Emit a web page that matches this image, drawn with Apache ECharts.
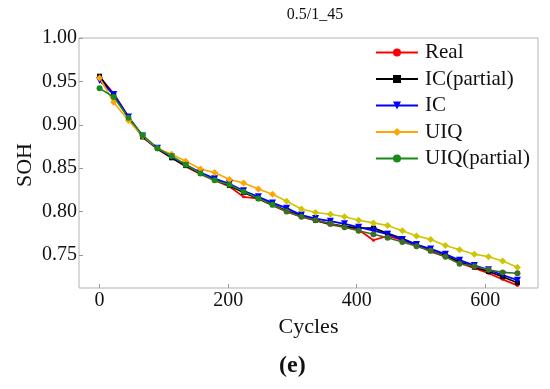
<!DOCTYPE html>
<html>
<head>
<meta charset="utf-8">
<script src="https://cdn.jsdelivr.net/npm/echarts@6/dist/echarts.min.js"></script>
<style>html,body{margin:0;padding:0;background:#fff}#c{width:550px;height:389px}</style>
</head>
<body>
<div id="c"></div>
<script>
const cycles = [0, 22, 45, 67, 90, 112, 134, 157, 179, 202, 224, 247, 269, 291, 314, 336, 359, 381, 403, 426, 448, 471, 493, 515, 538, 560, 583, 605, 627, 650];
const real = [0.955, 0.936, 0.909, 0.886, 0.872, 0.862, 0.852, 0.843, 0.836, 0.829, 0.817, 0.815, 0.807, 0.800, 0.794, 0.790, 0.785, 0.782, 0.779, 0.767, 0.772, 0.767, 0.761, 0.754, 0.748, 0.741, 0.735, 0.729, 0.722, 0.715];
const icPartial = [0.956, 0.934, 0.908, 0.886, 0.873, 0.862, 0.853, 0.844, 0.837, 0.830, 0.822, 0.815, 0.808, 0.801, 0.795, 0.790, 0.786, 0.783, 0.781, 0.781, 0.775, 0.769, 0.762, 0.755, 0.749, 0.742, 0.736, 0.731, 0.725, 0.718];
const ic = [0.951, 0.935, 0.909, 0.887, 0.873, 0.863, 0.854, 0.845, 0.838, 0.832, 0.824, 0.817, 0.810, 0.804, 0.796, 0.792, 0.789, 0.786, 0.782, 0.778, 0.774, 0.768, 0.762, 0.757, 0.751, 0.744, 0.738, 0.733, 0.727, 0.721];
const uiq = [0.954, 0.926, 0.905, 0.887, 0.873, 0.866, 0.858, 0.849, 0.845, 0.837, 0.833, 0.826, 0.820, 0.812, 0.803, 0.799, 0.797, 0.794, 0.790, 0.787, 0.784, 0.778, 0.772, 0.768, 0.761, 0.756, 0.751, 0.748, 0.743, 0.736];
const uiqPartial = [0.942, 0.932, 0.908, 0.888, 0.873, 0.864, 0.854, 0.844, 0.836, 0.831, 0.823, 0.815, 0.808, 0.800, 0.794, 0.790, 0.786, 0.782, 0.778, 0.774, 0.770, 0.765, 0.760, 0.755, 0.748, 0.740, 0.737, 0.733, 0.730, 0.729];
const xTicks = [0, 200, 400, 600];
const yTicks = [0.75, 0.80, 0.85, 0.90, 0.95, 1.00];

const FONT = '"Liberation Serif", "DejaVu Serif", serif';
const pairs = (ys) => cycles.map((c, i) => [c, ys[i]]);
const twoTone = (ys, c1, c2, split) => cycles.map((c, i) => ({value: [c, ys[i]], itemStyle: {color: i >= split ? c2 : c1}}));
const grad = (c1, c2, a, b) => ({type: 'linear', x: 0, y: 0, x2: 1, y2: 0, colorStops: [{offset: 0, color: c1}, {offset: a, color: c1}, {offset: b, color: c2}, {offset: 1, color: c2}]});

const chart = echarts.init(document.getElementById('c'), null, {renderer: 'canvas'});
chart.setOption({
  animation: false,
  backgroundColor: '#fff',
  title: {text: '0.5/1_45', left: 310, top: 2, textAlign: 'center',
    textStyle: {fontFamily: FONT, fontSize: 16, fontWeight: 'normal', color: '#111'}},
  grid: {left: 79, top: 38, right: 12, bottom: 101, show: true, borderColor: '#b4b4b4', borderWidth: 1,
    containLabel: false, outerBoundsMode: 'none'},
  legend: {
    orient: 'vertical', left: 370, top: 37, itemWidth: 42, itemHeight: 10, itemGap: 5.5,
    textStyle: {fontFamily: FONT, fontSize: 21, lineHeight: 20, color: '#111', padding: [0, 0, 0, 2]},
    data: [
      {name: 'Real', itemStyle: {color: '#ff0000'}},
      {name: 'IC(partial)'},
      {name: 'IC'},
      {name: 'UIQ', itemStyle: {color: '#ffa500'}, lineStyle: {color: '#ffa500'}},
      {name: 'UIQ(partial)', itemStyle: {color: '#1a8a1a'}, lineStyle: {color: '#1a8a1a'}}
    ]
  },
  xAxis: {
    type: 'value', min: -32, max: 682,
    name: 'Cycles', nameLocation: 'middle', nameGap: 21,
    nameTextStyle: {fontFamily: FONT, fontSize: 22, color: '#111'},
    axisLine: {show: false, onZero: false},
    axisTick: {show: true, inside: true, length: 4, lineStyle: {color: '#999'}, customValues: xTicks},
    axisLabel: {fontFamily: FONT, fontSize: 20, color: '#111', margin: 3, customValues: xTicks},
    splitLine: {show: false}
  },
  yAxis: {
    type: 'value', min: 0.712, max: 1.0,
    axisLine: {show: false, onZero: false},
    axisTick: {show: true, inside: true, length: 4, lineStyle: {color: '#999'}, customValues: yTicks},
    axisLabel: {fontFamily: FONT, fontSize: 20, color: '#111', margin: 2, customValues: yTicks,
      formatter: v => v.toFixed(2)},
    splitLine: {show: false}
  },
  series: [
    {name: 'Real', type: 'line', data: pairs(real), color: '#ff0000', symbol: 'circle', symbolSize: 3,
      lineStyle: {width: 1.8, color: '#ff0000'}, itemStyle: {color: '#ff0000'}},
    {name: 'IC(partial)', type: 'line', data: pairs(icPartial), color: '#000000', symbol: 'rect', symbolSize: 5,
      lineStyle: {width: 1.8, color: '#000000'}, itemStyle: {color: '#000000'}},
    {name: 'IC', type: 'line', data: pairs(ic), color: '#0000ff', symbol: 'triangle', symbolRotate: 180, symbolSize: 7,
      lineStyle: {width: 1.8, color: '#0000ff'}, itemStyle: {color: '#0000ff'}},
    {name: 'UIQ', type: 'line', data: twoTone(uiq, '#ffa500', '#cfc400', 13), color: '#ffa500', symbol: 'diamond', symbolSize: 7,
      lineStyle: {width: 1.6, color: grad('#ffa500', '#cfc400', 0.40, 0.45)}},
    {name: 'UIQ(partial)', type: 'line', data: twoTone(uiqPartial, '#1a8a1a', '#3f6e22', 13), color: '#1a8a1a', symbol: 'circle', symbolSize: 6,
      lineStyle: {width: 1.6, color: grad('#1a8a1a', '#3f6e22', 0.40, 0.45)}}
  ],
  graphic: [
    {type: 'text', x: 25, y: 165, rotation: Math.PI / 2,
      style: {text: 'SOH', fontFamily: FONT, fontSize: 22, fill: '#111', textAlign: 'center', textVerticalAlign: 'middle'}},
    {type: 'text', left: 279, top: 354, style: {text: '(e)', fontFamily: FONT, fontSize: 24, fontWeight: 'bold', fill: '#111', textAlign: 'center'}}
  ]
});
</script>
</body>
</html>
